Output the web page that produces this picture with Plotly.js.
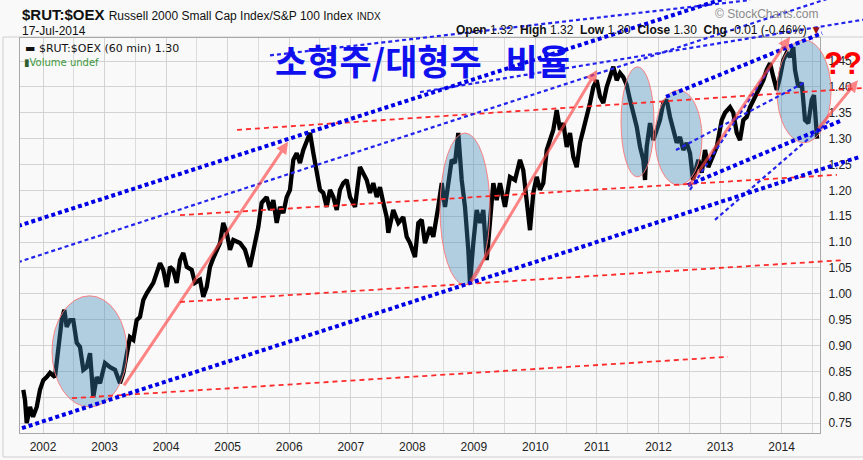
<!DOCTYPE html>
<html><head><meta charset="utf-8">
<script src="https://cdn.plot.ly/plotly-3.0.1.min.js"></script>
<style>html,body{margin:0;padding:0;background:#f9f9f9;}#chart{width:863px;height:460px;}</style>
</head><body><div id="chart"></div>
<script>
// ---- data ----
const dates = [
2001.680,2001.708,2001.735,2001.789,2001.838,2001.898,2001.951,2002.005,2002.060,2002.114,
2002.195,2002.249,2002.304,2002.346,2002.385,2002.439,2002.492,2002.548,2002.601,2002.655,
2002.710,2002.764,2002.817,2002.872,2002.926,2003.007,2003.089,2003.170,2003.251,2003.305,
2003.360,2003.413,2003.467,2003.522,2003.576,2003.630,2003.685,2003.738,2003.792,2003.847,
2003.901,2003.955,2004.010,2004.063,2004.117,2004.172,2004.226,2004.279,2004.335,2004.416,
2004.470,2004.551,2004.604,2004.660,2004.713,2004.767,2004.876,2004.929,2004.985,2005.038,
2005.092,2005.201,2005.282,2005.363,2005.417,2005.498,2005.553,2005.634,2005.688,2005.742,
2005.797,2005.851,2005.904,2005.959,2006.013,2006.067,2006.122,2006.175,2006.229,2006.284,
2006.338,2006.392,2006.447,2006.500,2006.554,2006.609,2006.663,2006.717,2006.772,2006.825,
2006.879,2006.934,2006.988,2007.069,2007.150,2007.204,2007.259,2007.313,2007.366,2007.422,
2007.475,2007.529,2007.584,2007.610,2007.691,2007.773,2007.854,2007.909,2007.963,2008.044,
2008.098,2008.153,2008.206,2008.288,2008.341,2008.422,2008.478,2008.531,2008.585,2008.640,
2008.694,2008.747,2008.803,2008.856,2008.910,2008.937,2008.991,2009.046,2009.100,2009.154,
2009.209,2009.263,2009.316,2009.371,2009.425,2009.506,2009.587,2009.669,2009.750,2009.803,
2009.859,2009.912,2009.966,2010.021,2010.075,2010.128,2010.184,2010.237,2010.291,2010.346,
2010.400,2010.454,2010.509,2010.562,2010.616,2010.671,2010.725,2010.778,2010.834,2010.887,
2010.941,2010.996,2011.050,2011.103,2011.158,2011.212,2011.266,2011.321,2011.375,2011.428,
2011.483,2011.537,2011.591,2011.646,2011.700,2011.753,2011.781,2011.808,2011.862,2011.916,
2011.971,2012.024,2012.078,2012.133,2012.187,2012.241,2012.296,2012.349,2012.403,2012.458,
2012.512,2012.561,2012.647,2012.702,2012.756,2012.809,2012.864,2012.946,2013.027,2013.081,
2013.162,2013.215,2013.271,2013.324,2013.378,2013.433,2013.487,2013.540,2013.596,2013.649,
2013.703,2013.758,2013.812,2013.866,2013.921,2013.974,2014.028,2014.083,2014.137,2014.190,
2014.218,2014.271,2014.327,2014.380,2014.434,2014.489,2014.526,2014.576];
const ratio = [
0.814,0.794,0.750,0.781,0.762,0.781,0.814,0.833,0.839,0.847,
0.839,0.891,0.949,0.969,0.936,0.949,0.949,0.905,0.897,0.853,
0.858,0.885,0.800,0.839,0.827,0.866,0.858,0.853,0.827,0.847,
0.885,0.916,0.911,0.949,0.955,0.988,1.001,1.013,1.021,1.040,
1.059,1.046,1.013,1.052,1.046,1.021,1.065,1.079,1.052,1.046,
1.021,1.027,0.994,1.013,1.052,1.069,1.098,1.137,1.118,1.085,
1.104,1.098,1.085,1.052,1.085,1.129,1.176,1.187,1.162,1.181,
1.137,1.168,1.156,1.187,1.201,1.259,1.272,1.253,1.278,1.297,
1.311,1.272,1.239,1.201,1.195,1.168,1.201,1.187,1.162,1.201,
1.214,1.220,1.187,1.168,1.245,1.234,1.220,1.195,1.214,1.187,
1.206,1.176,1.148,1.118,1.162,1.137,1.148,1.110,1.098,1.071,
1.137,1.143,1.098,1.129,1.110,1.168,1.214,1.168,1.214,1.259,
1.253,1.311,1.220,1.168,1.085,1.021,1.098,1.162,1.137,1.162,
1.065,1.137,1.214,1.181,1.214,1.168,1.226,1.220,1.259,1.239,
1.187,1.123,1.195,1.226,1.201,1.214,1.278,1.297,1.317,1.355,
1.317,1.330,1.284,1.311,1.265,1.245,1.292,1.317,1.342,1.369,
1.400,1.413,1.381,1.369,1.400,1.419,1.439,1.413,1.427,1.419,
1.404,1.375,1.350,1.323,1.284,1.259,1.220,1.284,1.330,1.297,
1.317,1.336,1.369,1.375,1.342,1.317,1.292,1.303,1.278,1.292,
1.272,1.220,1.259,1.234,1.278,1.245,1.259,1.284,1.336,1.350,
1.361,1.350,1.311,1.297,1.336,1.342,1.361,1.375,1.388,1.400,
1.413,1.433,1.446,1.419,1.394,1.419,1.452,1.466,1.458,1.477,
1.433,1.400,1.408,1.336,1.330,1.375,1.384,1.300];
const yearTicks = [2002,2003,2004,2005,2006,2007,2008,2009,2010,2011,2012,2013,2014];
const halfYears = [2002.5,2003.5,2004.5,2005.5,2006.5,2007.5,2008.5,2009.5,2010.5,2011.5,2012.5,2013.5,2014.5];
const priceTicks = [0.75,0.80,0.85,0.90,0.95,1.00,1.05,1.10,1.15,1.20,1.25,1.30,1.35,1.40,1.45];

// hand-drawn overlays: [x0, y0, x1, y1] in (year, ratio)
const blueThick = [
  [2001.659,0.740,2015.274,1.265],
  [2001.594,1.131,2013.487,1.587],
  [2012.122,1.381,2014.656,1.504],
  [2012.479,1.210,2014.949,1.334]];
const blueThin = [
  [2001.594,1.061,2015.274,1.591],
  [2005.688,1.461,2013.487,1.568],
  [2008.125,1.390,2015.323,1.530],
  [2012.284,1.278,2014.396,1.410],
  [2012.512,1.201,2013.812,1.437],
  [2012.918,1.143,2014.787,1.336]];
const redDashed = [
  [2005.152,1.317,2015.323,1.398],
  [2004.226,1.152,2014.900,1.230],
  [2004.226,0.984,2014.998,1.065],
  [2002.471,0.798,2013.129,0.878]];
const arrows = [
  [2003.300,0.820,2005.981,1.294],
  [2008.937,1.021,2011.001,1.433],
  [2012.479,1.206,2014.137,1.497],
  [2014.576,1.317,2015.241,1.413]];
const ellipses = [
  [2002.146,0.781,2003.365,0.996],
  [2008.450,1.017,2009.262,1.311],
  [2011.391,1.226,2011.927,1.439],
  [2011.943,1.210,2012.707,1.394],
  [2013.925,1.292,2014.803,1.491]];

// ---- build ----
function segs(list){
  const xs=[], ys=[];
  list.forEach(s=>{ xs.push(s[0],s[2],null); ys.push(s[1],s[3],null); });
  return {xs, ys};
}
const W = 863, H = 460;
const px = v => v / W, py = v => 1 - v / H;

const bt = segs(blueThick), bn = segs(blueThin), rd = segs(redDashed);
const traces = [
  {x: dates, y: ratio, xaxis:'x', yaxis:'y', mode:'lines', line:{color:'#000', width:4.3}, hoverinfo:'skip'},
  {x: rd.xs, y: rd.ys, xaxis:'x2', yaxis:'y2', mode:'lines', line:{color:'#ff2a2a', width:1.8, dash:'5px,4px'}, hoverinfo:'skip'},
  {x: bn.xs, y: bn.ys, xaxis:'x2', yaxis:'y2', mode:'lines', line:{color:'#2323ee', width:2.2, dash:'4px,3px'}, hoverinfo:'skip'},
  {x: bt.xs, y: bt.ys, xaxis:'x2', yaxis:'y2', mode:'lines', line:{color:'#0000e6', width:4, dash:'4px,3px'}, hoverinfo:'skip'}
];

const shapes = ellipses.map(e => ({
  type:'circle', xref:'x2', yref:'y2', x0:e[0], y0:e[1], x1:e[2], y1:e[3],
  layer:'below', fillcolor:'rgba(60,135,185,0.38)', line:{color:'rgba(255,120,120,0.9)', width:1}
}));
shapes.push({type:'rect', xref:'paper', yref:'paper', x0:px(3), x1:1.02, y0:py(457), y1:py(37),
  layer:'below', line:{color:'#cfcfcf', width:1}, fillcolor:'rgba(0,0,0,0)'});

const sans = '"Liberation Sans", Arial, sans-serif';
const annotations = arrows.map(a => ({
  xref:'x2', yref:'y2', axref:'x2', ayref:'y2', x:a[2], y:a[3], ax:a[0], ay:a[1],
  text:'', showarrow:true, arrowhead:2, arrowsize:0.8, arrowwidth:3, standoff:0, startstandoff:0,
  arrowcolor:'rgba(255,70,70,0.65)'
}));
annotations.push(
  {xref:'paper', yref:'paper', x:px(20), y:py(14), xanchor:'left', yanchor:'middle', showarrow:false,
   text:'<b>$RUT:$OEX</b> <span style="font-size:12px">Russell 2000 Small Cap Index/S&P 100 Index</span> <span style="font-size:10px">INDX</span>',
   font:{family:sans, size:15, color:'#111'}},
  {xref:'paper', yref:'paper', x:px(20), y:py(31), xanchor:'left', yanchor:'middle', showarrow:false,
   text:'17-Jul-2014', font:{family:sans, size:12, color:'#111'}},
  {xref:'paper', yref:'paper', x:px(821), y:py(14), xanchor:'right', yanchor:'middle', showarrow:false,
   text:'© StockCharts.com', font:{family:sans, size:12, color:'#8a8a8a'}},
  {xref:'paper', yref:'paper', x:px(454), y:py(30), xanchor:'left', yanchor:'middle', showarrow:false,
   text:'<b>Open</b> 1.32  <b>High</b> 1.32  <b>Low</b> 1.30  <b>Close</b> 1.30  <b>Chg</b> -0.01 (-0.46%) <span style="color:#9b1010">▼</span>',
   font:{family:sans, size:12, color:'#111'}},
  {xref:'paper', yref:'paper', x:px(23), y:py(49), xanchor:'left', yanchor:'middle', showarrow:false,
   text:'<b>▬</b> $RUT:$OEX (60 min) 1.30', font:{family:'"DejaVu Sans", sans-serif', size:11, color:'#111'}},
  {xref:'paper', yref:'paper', x:px(22), y:py(62), xanchor:'left', yanchor:'middle', showarrow:false,
   text:'<span style="color:#2f5f2f">▮</span>Volume undef', font:{family:'"DejaVu Sans", sans-serif', size:10, color:'#3c9a3c'}},
  {xref:'paper', yref:'paper', x:px(273), y:py(59.5), xanchor:'left', yanchor:'middle', showarrow:false,
   text:'소형주/대형주\u00a0\u00a0\u00a0비율', font:{family:'"Noto Sans CJK KR", sans-serif', size:35, color:'#1010ee', weight:700}},
  {xref:'paper', yref:'paper', x:px(843), y:py(64), xanchor:'center', yanchor:'middle', showarrow:false,
   text:'??', font:{family:sans, size:31, color:'#ff0000', weight:700}}
);

const grid = '#d3d3d3';
const layout = {
  width:W, height:H, margin:{l:0, r:0, t:0, b:0},
  paper_bgcolor:'#f9f9f9', plot_bgcolor:'rgba(0,0,0,0)', showlegend:false,
  xaxis:{domain:[px(20), px(820)], range:[2001.6263, 2014.6239], anchor:'y',
    tickmode:'array', tickvals:yearTicks, ticktext:yearTicks.map(String),
    showgrid:true, gridcolor:grid, gridwidth:1, zeroline:false,
    minor:{tickmode:'array', tickvals:halfYears, showgrid:true, gridcolor:'#dcdcdc', ticks:''},
    showline:true, mirror:true, linecolor:'#a8a8a8', linewidth:1, ticks:'',
    ticklabelstandoff:3, tickfont:{family:sans, size:12, color:'#222'}, fixedrange:true},
  yaxis:{domain:[py(433), py(38)], range:[0.73066, 1.49468], anchor:'x', side:'right',
    tickmode:'array', tickvals:priceTicks, ticktext:priceTicks.map(v=>v.toFixed(2)),
    showgrid:true, gridcolor:grid, gridwidth:1, zeroline:false,
    showline:true, mirror:true, linecolor:'#a8a8a8', linewidth:1, ticks:'',
    ticklabelstandoff:5, tickfont:{family:sans, size:12, color:'#222'}, fixedrange:true},
  xaxis2:{domain:[px(20), 1], range:[2001.6263, 2015.3225], anchor:'y2', visible:false, fixedrange:true},
  yaxis2:{domain:[py(433), 1], range:[0.73066, 1.56818], anchor:'x2', visible:false, fixedrange:true},
  shapes:shapes, annotations:annotations
};
Plotly.newPlot('chart', traces, layout, {staticPlot:true, displayModeBar:false});
</script></body></html>
